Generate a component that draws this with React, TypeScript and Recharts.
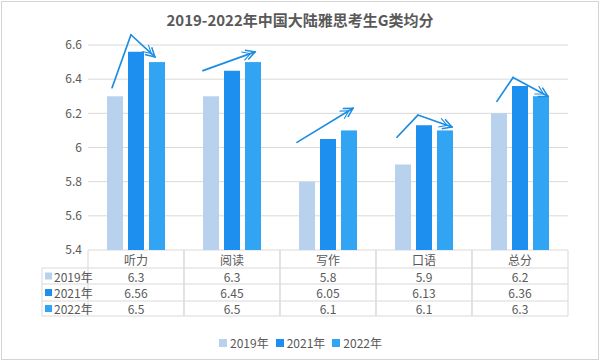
import React from 'react';
import { BarChart, Bar, XAxis, YAxis, CartesianGrid } from 'recharts';

const categories = ['听力', '阅读', '写作', '口语', '总分'];
const scores2019 = [6.3, 6.3, 5.8, 5.9, 6.2];
const scores2021 = [6.56, 6.45, 6.05, 6.13, 6.36];
const scores2022 = [6.5, 6.5, 6.1, 6.1, 6.3];
const seriesNames = ['2019年', '2021年', '2022年'];
const seriesKeys = ['y2019', 'y2021', 'y2022'];
const seriesValues = [scores2019, scores2021, scores2022];
const seriesColors = ['#b8d2ee', '#1d8fee', '#31a5f4'];
const yTicks = [5.4, 5.6, 5.8, 6, 6.2, 6.4, 6.6];
const Y_MIN = 5.4;
const Y_MAX = 6.6;
const title = '2019-2022年中国大陆雅思考生G类均分';

// hand-drawn trend arrows per category: [offset from the 2021 bar centre in bar slots, value]
const arrowPoints: number[][][] = [
  [[-1.14, 6.35], [-0.24, 6.66], [0.9, 6.53]],
  [[-1.38, 6.45], [1.1, 6.56]],
  [[-1.48, 6.03], [1.19, 6.23]],
  [[-1.29, 6.06], [-0.29, 6.19], [1.33, 6.12]],
  [[-1.1, 6.27], [-0.33, 6.41], [1.33, 6.3]],
];

const FONT = '"Noto Sans CJK SC", "Noto Sans", sans-serif';
const TEXT = '#595959';
const GRID = '#d9d9d9';
const ARROW = '#1b8de2';
const BAR_GAP = 5;

const data = categories.map((name, i) => {
  const row: any = { name };
  seriesKeys.forEach((k, s) => (row[k] = seriesValues[s][i]));
  return row;
});

function TableTick(props: any) {
  const { x, y, payload } = props;
  const half = payload && payload.offset ? payload.offset : 48;
  const i = categories.indexOf(payload.value);
  const rowLines = [18, 34, 51, 66];
  const rowCenters = [26, 42.5, 58.5];
  return (
    <g>
      <line x1={x - half} x2={x - half} y1={y} y2={y + 66} stroke={GRID} />
      <line x1={x + half} x2={x + half} y1={y} y2={y + 66} stroke={GRID} />
      {rowLines.map((d) => (
        <line key={d} x1={x - half} x2={x + half} y1={y + d} y2={y + d} stroke={GRID} />
      ))}
      <text x={x} y={y + 9} textAnchor="middle" dominantBaseline="central" fontSize={12} fill={TEXT} fontFamily={FONT}>
        {payload.value}
      </text>
      {seriesValues.map((vals, s) => (
        <text key={s} x={x} y={y + rowCenters[s]} textAnchor="middle" dominantBaseline="central" fontSize={12} fill={TEXT} fontFamily={FONT}>
          {String(vals[i])}
        </text>
      ))}
    </g>
  );
}

// Last series shape: draws the bar, then the trend arrow for its category,
// positioned with the bar geometry the library computed.
function LastBarWithArrow(props: any) {
  const { x, y, width, height, fill, payload } = props;
  const ci = categories.indexOf(payload?.name);
  const value = scores2022[ci];
  const pxPerUnit = height / (value - Y_MIN);
  const base = y + height;
  const slot = width + BAR_GAP;
  const centre2021 = x + width / 2 - slot;
  const pts = (arrowPoints[ci] || []).map(([o, v]) => [centre2021 + o * slot, base - (v - Y_MIN) * pxPerUnit]);
  return (
    <g>
      <rect x={x} y={y} width={width} height={height} fill={fill} />
      {pts.slice(0, -1).map((p, k) => (
        <line
          key={k}
          x1={p[0]}
          y1={p[1]}
          x2={pts[k + 1][0]}
          y2={pts[k + 1][1]}
          stroke={ARROW}
          strokeWidth={1.7}
          strokeLinecap="round"
          markerEnd={k === pts.length - 2 ? 'url(#arrowHead)' : undefined}
        />
      ))}
    </g>
  );
}

export default function App() {
  return (
    <div style={{ position: 'absolute', left: 0, top: 0, width: 601, height: 362, background: '#fff', fontFamily: FONT }}>
      <style>{'body{margin:0}'}</style>
      <svg width={0} height={0} style={{ position: 'absolute' }}>
        <defs>
          <marker id="arrowHead" viewBox="-4 0 16 12" refX="10" refY="6" markerWidth="16" markerHeight="12" markerUnits="userSpaceOnUse" orient="auto">
            <path d="M1,1 L10,6 L1,11" fill="none" stroke={ARROW} strokeWidth={1.5} />
            <path d="M-3,1.5 L5,6 L-3,10.5" fill="none" stroke={ARROW} strokeWidth={1.1} />
          </marker>
        </defs>
      </svg>
      <div style={{ position: 'absolute', left: 0, top: 0 }}>
        <BarChart
          width={601}
          height={362}
          data={data}
          margin={{ top: 45, right: 33, bottom: 44, left: 28 }}
          barSize={16}
          barGap={BAR_GAP}
        >
          <CartesianGrid vertical={false} stroke={GRID} />
          <XAxis
            dataKey="name"
            height={68}
            tickLine={false}
            axisLine={false}
            tickSize={0}
            tickMargin={0}
            interval={0}
            tick={<TableTick />}
          />
          <YAxis
            width={60}
            domain={[Y_MIN, Y_MAX]}
            ticks={yTicks}
            tickLine={false}
            axisLine={false}
            tickSize={0}
            tickMargin={6}
            tick={{ fontSize: 12, fill: TEXT, fontFamily: FONT }}
          />
          {seriesKeys.map((k, s) => (
            <Bar
              key={k}
              dataKey={k}
              name={seriesNames[s]}
              fill={seriesColors[s]}
              isAnimationActive={false}
              shape={s === 2 ? (p: any) => <LastBarWithArrow {...p} /> : undefined}
            />
          ))}
        </BarChart>
      </div>
      <svg width={601} height={362} style={{ position: 'absolute', left: 0, top: 0, pointerEvents: 'none' }}>
        <rect x={1.5} y={1.5} width={597} height={358} fill="none" stroke="#d4d4d4" />
        <text x={300} y={19} textAnchor="middle" dominantBaseline="central" fontSize={15} fontWeight="bold" fill={TEXT} fontFamily={FONT}>
          {title}
        </text>
        {[268, 284, 301, 316].map((yy) => (
          <line key={yy} x1={42} x2={88} y1={yy} y2={yy} stroke={GRID} />
        ))}
        <line x1={42} x2={42} y1={268} y2={316} stroke={GRID} />
        {seriesNames.map((n, s) => {
          const cy = [276, 292.5, 308.5][s];
          return (
            <g key={n}>
              <rect x={45} y={cy - 3.5} width={7} height={7} fill={seriesColors[s]} />
              <text x={54} y={cy} dominantBaseline="central" fontSize={12} fill={TEXT} fontFamily={FONT}>
                {n}
              </text>
            </g>
          );
        })}
      </svg>
      <div
        style={{
          position: 'absolute',
          left: 0,
          top: 335,
          width: 601,
          display: 'flex',
          justifyContent: 'center',
          gap: 7,
          fontSize: 12,
          color: TEXT,
          lineHeight: '16px',
        }}
      >
        {seriesNames.map((n, s) => (
          <div key={n} style={{ display: 'flex', alignItems: 'center' }}>
            <span style={{ display: 'inline-block', width: 8, height: 8, background: seriesColors[s], marginRight: 3 }} />
            <span>{n}</span>
          </div>
        ))}
      </div>
    </div>
  );
}
